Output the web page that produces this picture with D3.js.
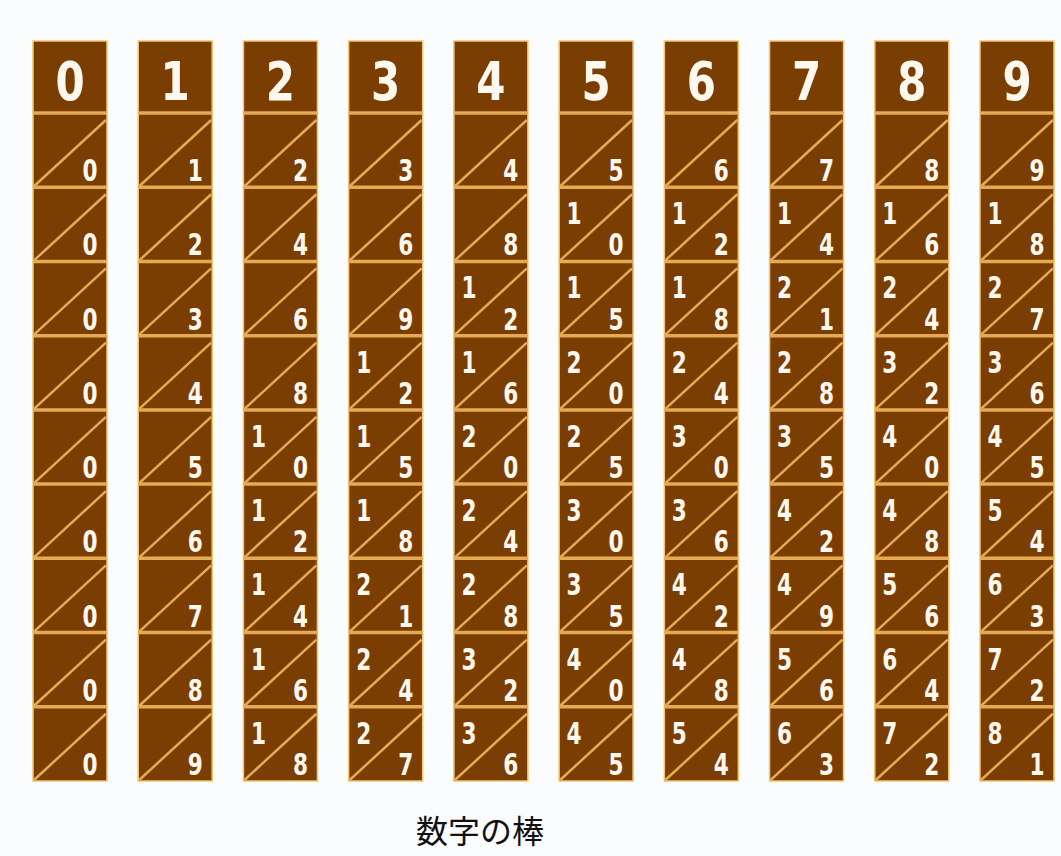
<!DOCTYPE html>
<html><head><meta charset="utf-8">
<script src="https://cdn.jsdelivr.net/npm/d3@7"></script>
<style>
html,body{margin:0;padding:0;background:#fbfcfd;}
svg{display:block;}
</style></head>
<body>
<svg id="chart" width="1061" height="856"></svg>
<script>
// ---- data ----
const headers = [0, 1, 2, 3, 4, 5, 6, 7, 8, 9];
const multipliers = [1, 2, 3, 4, 5, 6, 7, 8, 9];
const bone0 = [0, 0, 0, 0, 0, 0, 0, 0, 0];
const bone1 = [1, 2, 3, 4, 5, 6, 7, 8, 9];
const bone2 = [2, 4, 6, 8, 10, 12, 14, 16, 18];
const bone3 = [3, 6, 9, 12, 15, 18, 21, 24, 27];
const bone4 = [4, 8, 12, 16, 20, 24, 28, 32, 36];
const bone5 = [5, 10, 15, 20, 25, 30, 35, 40, 45];
const bone6 = [6, 12, 18, 24, 30, 36, 42, 48, 54];
const bone7 = [7, 14, 21, 28, 35, 42, 49, 56, 63];
const bone8 = [8, 16, 24, 32, 40, 48, 56, 64, 72];
const bone9 = [9, 18, 27, 36, 45, 54, 63, 72, 81];
const caption = "数字の棒";

const bones = [bone0, bone1, bone2, bone3, bone4, bone5, bone6, bone7, bone8, bone9];

// ---- style ----
const fill = "#7b3e02", sep = "#e6aa55", edge = "#f3c56c", ink = "#fff8ee";
const numFont = "'DejaVu Sans Condensed','DejaVu Sans',sans-serif";

const svg = d3.select("#chart");
const boneTop = 41, headH = 72, boneH = 740;

const x = d3.scaleBand().domain(headers).range([33, 1054]).paddingInner(0.297).paddingOuter(0);
const y = d3.scaleBand().domain(multipliers).range([boneTop + headH, boneTop + boneH]);
const bw = x.bandwidth();

const cols = svg.selectAll("g.bone").data(headers).join("g")
  .attr("class", "bone")
  .attr("transform", d => `translate(${x(d)},0)`);

// body
cols.append("rect")
  .attr("x", 0).attr("y", boneTop).attr("width", bw).attr("height", boneH)
  .attr("fill", fill).attr("stroke", edge).attr("stroke-width", 1.5);

// header digit (narrowed)
cols.append("text")
  .attr("transform", `translate(${bw / 2},${boneTop + 59}) scale(0.88,1)`)
  .attr("text-anchor", "middle")
  .attr("font-family", numFont).attr("font-weight", "bold").attr("font-size", 53)
  .attr("fill", ink).text(d => d);

// cells
cols.each(function (h, ci) {
  const g = d3.select(this);
  const vals = bones[ci];
  const cells = g.selectAll("g.cell").data(multipliers.map((m, i) => ({ m, v: vals[i] })))
    .join("g").attr("class", "cell");
  // separator above each cell
  cells.append("line")
    .attr("x1", 0).attr("x2", bw)
    .attr("y1", d => y(d.m)).attr("y2", d => y(d.m))
    .attr("stroke", sep).attr("stroke-width", 3.5);
  // diagonal
  cells.append("line")
    .attr("x1", 1).attr("y1", d => y(d.m) + y.bandwidth() - 1)
    .attr("x2", bw - 1).attr("y2", d => y(d.m) + 7)
    .attr("stroke", sep).attr("stroke-width", 2.5);
  // tens
  cells.filter(d => Math.floor(d.v / 10) > 0).append("text")
    .attr("transform", d => `translate(15,${y(d.m) + 37}) scale(0.8,1)`)
    .attr("text-anchor", "middle")
    .attr("font-family", numFont).attr("font-weight", "bold").attr("font-size", 30)
    .attr("fill", ink).text(d => Math.floor(d.v / 10));
  // units
  cells.append("text")
    .attr("transform", d => `translate(${bw - 17},${y(d.m) + y.bandwidth() - 6}) scale(0.8,1)`)
    .attr("text-anchor", "middle")
    .attr("font-family", numFont).attr("font-weight", "bold").attr("font-size", 30)
    .attr("fill", ink).text(d => d.v % 10);
});

// caption
svg.append("text")
  .attr("x", 480).attr("y", 843)
  .attr("text-anchor", "middle")
  .attr("font-family", "'Noto Sans CJK JP',sans-serif").attr("font-size", 32)
  .attr("fill", "#111").text(caption);
</script>
</body></html>
